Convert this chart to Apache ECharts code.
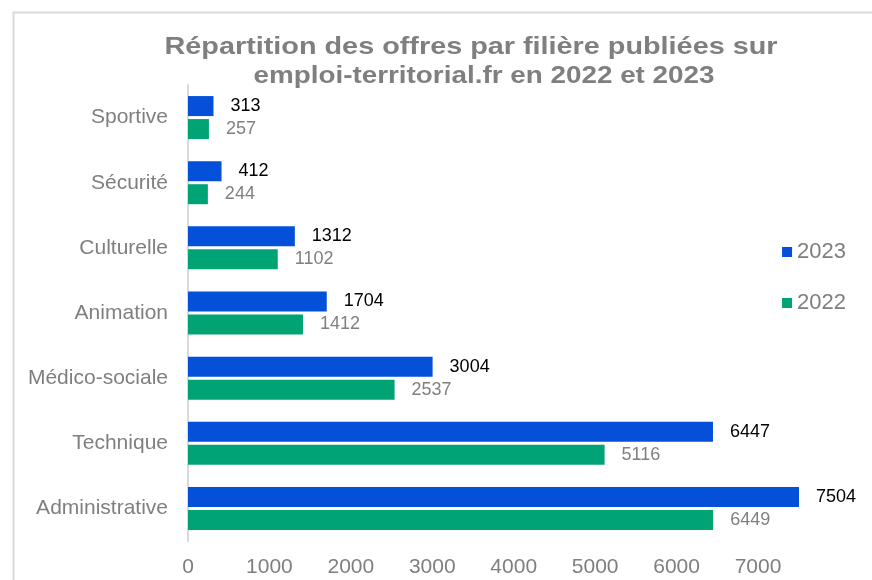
<!DOCTYPE html>
<html>
<head>
<meta charset="utf-8">
<script src="https://cdn.jsdelivr.net/npm/echarts@6/dist/echarts.min.js"></script>
<style>
html,body{margin:0;padding:0;background:#fff;}
#c{width:872px;height:580px;}
</style>
</head>
<body>
<div id="c"></div>
<script>
const categories = ['Administrative', 'Technique', 'Médico-sociale', 'Animation', 'Culturelle', 'Sécurité', 'Sportive'];
const values2023 = [7504, 6447, 3004, 1704, 1312, 412, 313];
const values2022 = [6449, 5116, 2537, 1412, 1102, 244, 257];
const xTicks = [0, 1000, 2000, 3000, 4000, 5000, 6000, 7000];
const titleLines = ['Répartition des offres par filière publiées sur', 'emploi-territorial.fr en 2022 et 2023'];

const FONT = '"Liberation Sans", Arial, sans-serif';
const chart = echarts.init(document.getElementById('c'), null, {renderer: 'canvas'});
chart.setOption({
  backgroundColor: '#fff',
  animation: false,
  graphic: [
    {
      type: 'rect', left: 11, top: 10, z: -1, silent: true,
      shape: {width: 1000, height: 1000},
      style: {fill: 'none', stroke: '#d9d9d9', lineWidth: 2}
    },
    {
      type: 'text', x: 471, y: 47, scaleX: 1.2, silent: true,
      style: {text: titleLines[0], x: 0, y: 0, align: 'center', verticalAlign: 'middle',
        font: 'bold 24px ' + FONT, fill: '#7f7f7f'}
    },
    {
      type: 'text', x: 484, y: 76, scaleX: 1.16, silent: true,
      style: {text: titleLines[1], x: 0, y: 0, align: 'center', verticalAlign: 'middle',
        font: 'bold 24px ' + FONT, fill: '#7f7f7f'}
    }
  ],
  legend: {
    orient: 'vertical', right: 21, top: 236,
    itemWidth: 10, itemHeight: 10, itemGap: 29,
    icon: 'rect',
    textStyle: {fontFamily: FONT, fontSize: 22, color: '#7f7f7f'},
    data: ['2023', '2022']
  },
  grid: {left: 188, right: 57, top: 85, bottom: 39, containLabel: false},
  xAxis: {
    type: 'value', min: 0, max: 7700, interval: 1000,
    axisLine: {show: false}, axisTick: {show: false}, splitLine: {show: false},
    axisLabel: {
      showMaxLabel: false, fontFamily: FONT, fontSize: 21, color: '#7f7f7f', margin: 16,
      formatter: v => xTicks.includes(v) ? String(v) : ''
    }
  },
  yAxis: {
    type: 'category', data: categories,
    axisLine: {show: true, lineStyle: {color: '#d9d9d9', width: 2}},
    axisTick: {show: false},
    axisLabel: {fontFamily: FONT, fontSize: 21, color: '#7f7f7f', margin: 20}
  },
  series: [
    {
      name: '2023', type: 'bar', data: values2023, barWidth: 20, barGap: '15%',
      itemStyle: {color: '#0450d9'},
      label: {show: true, position: 'right', distance: 17, fontFamily: FONT, fontSize: 18, color: '#000'}
    },
    {
      name: '2022', type: 'bar', data: values2022, barWidth: 20,
      itemStyle: {color: '#00a374'},
      label: {show: true, position: 'right', distance: 17, fontFamily: FONT, fontSize: 18, color: '#808080'}
    }
  ]
});
</script>
</body>
</html>
